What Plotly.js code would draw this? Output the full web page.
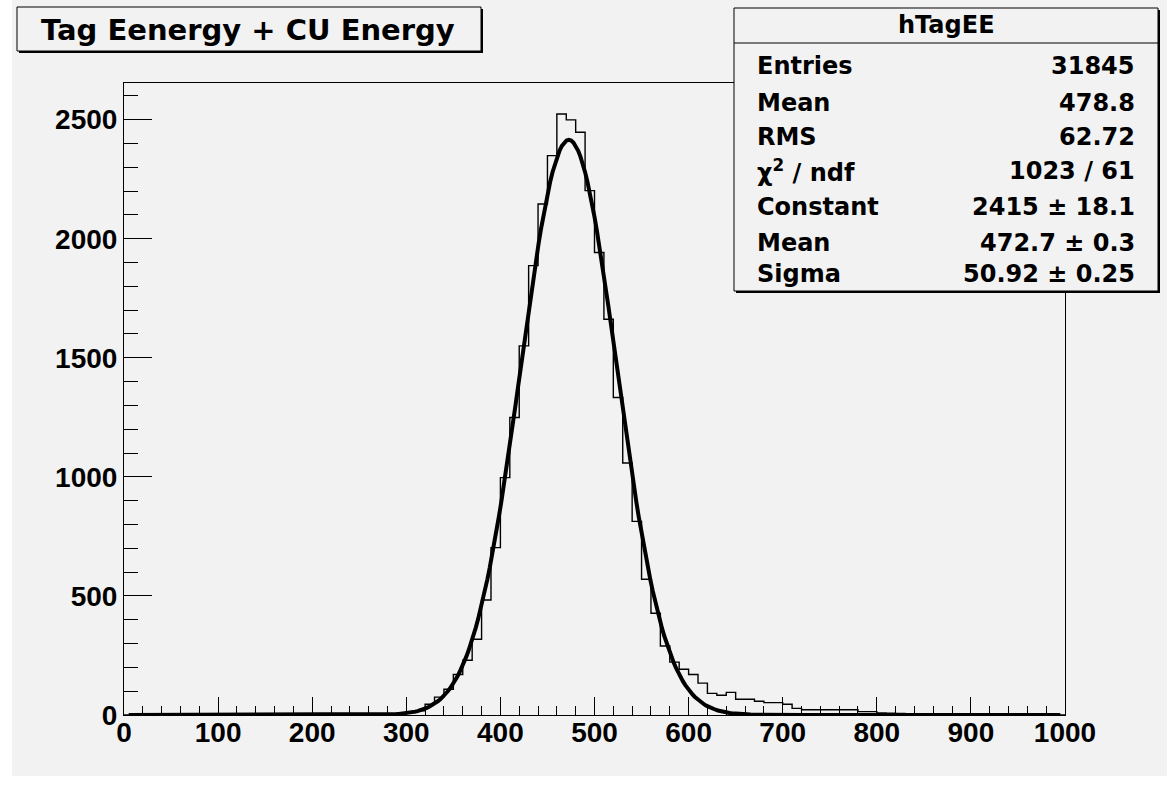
<!DOCTYPE html>
<html>
<head>
<meta charset="utf-8">
<script src="https://cdn.plot.ly/plotly-3.0.1.min.js"></script>
<style>
  html, body { margin: 0; padding: 0; background: #ffffff; }
  #chart { width: 1167px; height: 789px; }
</style>
</head>
<body>
<div id="chart"></div>
<script>
// ---------------- data ----------------
const histName = 'hTagEE';
const chartTitle = 'Tag Eenergy + CU Energy';
const binStart = 0;
const binWidth = 10;
// counts per 10-unit bin, 0..1000 (100 bins)
const counts = [
  0, 0, 0, 0, 0, 0, 0, 0, 0, 0,
  0, 0, 0, 0, 0, 0, 0, 0, 0, 0,
  0, 0, 0, 0, 0, 0, 0, 1, 2, 4,
  10, 18, 45, 75, 108, 170, 230, 318, 483, 703,
  997, 1249, 1550, 1887, 2146, 2349, 2524, 2499, 2447, 2202,
  1942, 1662, 1333, 1058, 813, 570, 427, 290, 222, 192,
  170, 134, 91, 83, 95, 66, 66, 58, 52, 52,
  45, 28, 22, 22, 22, 22, 22, 22, 14, 14,
  9, 8, 6, 5, 5, 4, 4, 3, 3, 3,
  2, 2, 2, 2, 1, 1, 1, 1, 1, 0
];
// Gaussian fit parameters (from the stats box)
const fitConstant = 2415;
const fitMean = 472.7;
const fitSigma = 50.92;
const fitXmin = 5;
const fitXmax = 995;

const statLabels = ['Entries', 'Mean', 'RMS', '\u03C7<sup>2</sup> / ndf', 'Constant', 'Mean', 'Sigma'];
const statValues = ['31845', '478.8', '62.72', '1023 / 61', '2415 \u00B1 18.1', '472.7 \u00B1 0.3', '50.92 \u00B1 0.25'];

const xTickVals = [0, 100, 200, 300, 400, 500, 600, 700, 800, 900, 1000];
const yTickVals = [0, 500, 1000, 1500, 2000, 2500];

// ---------------- geometry (pixels) ----------------
const W = 1167, H = 789;
const L = 124, T = 83, PW = 941, PH = 632;
const px = v => (v - L) / PW;
const py = v => (T + PH - v) / PH;

// ---------------- traces ----------------
const edgesX = [];
const stepY = [];
for (let i = 0; i < counts.length; i++) {
  edgesX.push(binStart + i * binWidth);
  stepY.push(counts[i]);
}
edgesX.push(binStart + counts.length * binWidth);
stepY.push(counts[counts.length - 1]);

const histTrace = {
  type: 'scatter', mode: 'lines',
  x: edgesX, y: stepY,
  line: { shape: 'hv', color: '#000000', width: 1.4 },
  hoverinfo: 'skip', showlegend: false
};

const fitX = [], fitY = [];
const nFit = 400;
for (let i = 0; i <= nFit; i++) {
  const x = fitXmin + (fitXmax - fitXmin) * i / nFit;
  fitX.push(x);
  fitY.push(fitConstant * Math.exp(-0.5 * Math.pow((x - fitMean) / fitSigma, 2)));
}
const fitTrace = {
  type: 'scatter', mode: 'lines',
  x: fitX, y: fitY,
  line: { color: '#000000', width: 4 },
  hoverinfo: 'skip', showlegend: false
};

// ---------------- boxes ----------------
const gray = '#f2f2f2';
const shapes = [];
function box(x0, y0, x1, y1, shadow) {
  shapes.push({ type: 'rect', xref: 'paper', yref: 'paper', layer: 'above',
    x0: px(x0 + shadow), x1: px(x1 + shadow), y0: py(y1 + shadow), y1: py(y0 + shadow),
    fillcolor: '#000000', line: { width: 0 } });
  shapes.push({ type: 'rect', xref: 'paper', yref: 'paper', layer: 'above',
    x0: px(x0), x1: px(x1), y0: py(y1), y1: py(y0),
    fillcolor: gray, line: { color: '#000000', width: 1 } });
}
// canvas gray area
shapes.push({ type: 'rect', xref: 'paper', yref: 'paper', layer: 'below',
  x0: px(12), x1: px(1167), y0: py(776), y1: py(0),
  fillcolor: gray, line: { width: 0 } });
box(17, 7, 481, 51, 2);
box(734, 8, 1158, 291, 2);
shapes.push({ type: 'line', xref: 'paper', yref: 'paper', layer: 'above',
  x0: px(734), x1: px(1158), y0: py(43), y1: py(43),
  line: { color: '#000000', width: 1 } });

// ---------------- annotations ----------------
const statFont = { family: 'DejaVu Sans', size: 24, color: '#000000', weight: 'bold' };
const rowY = [64, 101, 135, 169, 205, 241, 272];
const annotations = [];
annotations.push({ xref: 'paper', yref: 'paper', x: px(248), y: py(30), xanchor: 'center', yanchor: 'middle',
  text: chartTitle, showarrow: false,
  font: { family: 'DejaVu Sans', size: 29, color: '#000000', weight: 'bold' } });
annotations.push({ xref: 'paper', yref: 'paper', x: px(946), y: py(25), xanchor: 'center', yanchor: 'middle',
  text: histName, showarrow: false, font: statFont });
for (let i = 0; i < statLabels.length; i++) {
  annotations.push({ xref: 'paper', yref: 'paper', x: px(755), y: py(rowY[i] + 2), xanchor: 'left', yanchor: 'middle',
    text: statLabels[i], showarrow: false, font: statFont });
  annotations.push({ xref: 'paper', yref: 'paper', x: px(1137), y: py(rowY[i] + 2), xanchor: 'right', yanchor: 'middle',
    text: statValues[i], showarrow: false, font: statFont });
}

// ---------------- layout ----------------
const tickFont = { family: 'Liberation Sans', size: 28, color: '#000000', weight: 'bold' };
const layout = {
  width: W, height: H,
  margin: { l: L, r: W - L - PW, t: T, b: H - T - PH, pad: 0 },
  paper_bgcolor: '#ffffff',
  plot_bgcolor: gray,
  showlegend: false,
  xaxis: {
    range: [0, 1000], showgrid: false, zeroline: false,
    showline: true, linecolor: '#000000', linewidth: 1, mirror: true,
    tickmode: 'array', tickvals: xTickVals, ticktext: xTickVals.map(String),
    ticks: 'inside', ticklen: 18, tickwidth: 1, tickcolor: '#000000',
    minor: { dtick: 20, ticks: 'inside', ticklen: 9, tickwidth: 1, tickcolor: '#000000' },
    tickfont: tickFont, ticklabelstandoff: -8
  },
  yaxis: {
    range: [0, 2654], showgrid: false, zeroline: false,
    showline: true, linecolor: '#000000', linewidth: 1, mirror: true,
    tickmode: 'array', tickvals: yTickVals, ticktext: yTickVals.map(String),
    ticks: 'inside', ticklen: 28, tickwidth: 1, tickcolor: '#000000',
    minor: { dtick: 100, ticks: 'inside', ticklen: 14, tickwidth: 1, tickcolor: '#000000' },
    tickfont: tickFont, ticklabelstandoff: 0
  },
  shapes: shapes,
  annotations: annotations
};

Plotly.newPlot('chart', [histTrace, fitTrace], layout, { displayModeBar: false, staticPlot: true });
</script>
</body>
</html>
